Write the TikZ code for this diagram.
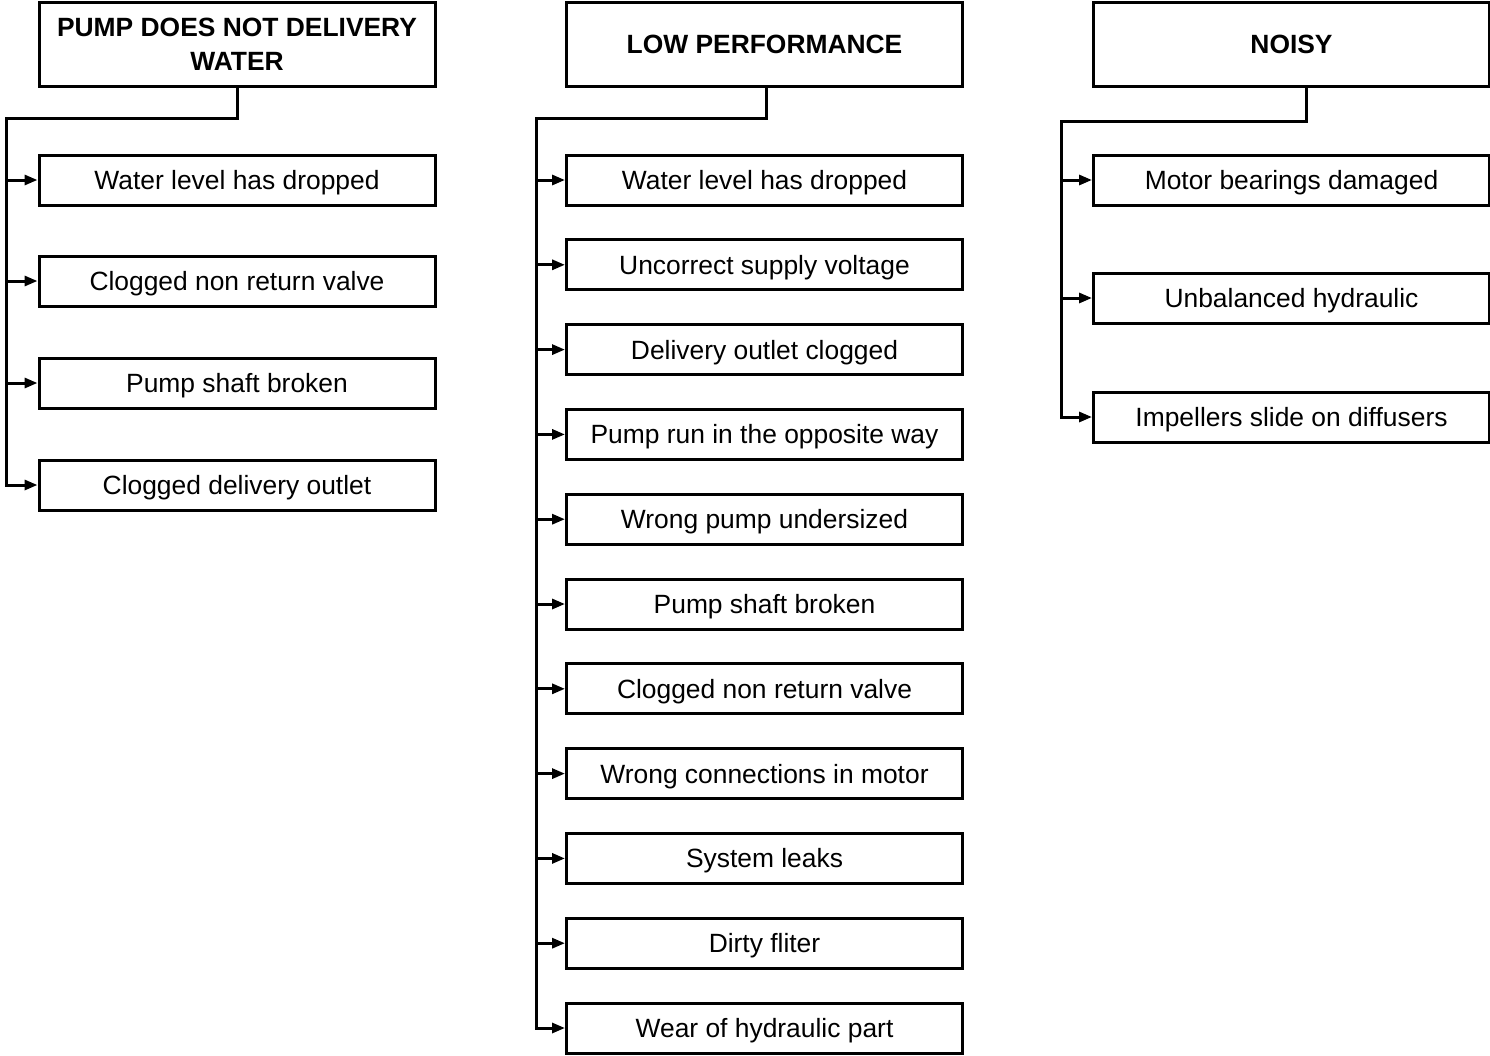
\documentclass[tikz,border=0pt]{standalone}
\usepackage{fontspec}
\setmainfont{Liberation Sans}
\usetikzlibrary{arrows.meta}
\begin{document}
\begin{tikzpicture}[x=1pt,y=1pt,
  box/.style={draw,line width=3pt,rectangle,minimum width=396pt,minimum height=50pt,inner sep=0pt,
    text height=18.9pt,text depth=0pt,
    font=\fontsize{26.4}{34.5}\selectfont,align=center},
  hdr/.style={box,minimum height=84pt,font=\fontsize{26.4}{34.5}\selectfont\bfseries},
  arr/.style={line width=3pt,-{Triangle[length=13pt,width=10pt]}}]
\useasboundingbox (0,0) rectangle (1490,-1055);
% headers
\node[hdr,text height=53.4pt] (lh) at (237,-44) {PUMP DOES NOT DELIVERY\\WATER};
\node[hdr] (mh) at (764.5,-44) {LOW PERFORMANCE};
\node[hdr] (rh) at (1291.5,-44) {NOISY};
% left column
\node[box] (l1) at (237,-180) {Water level has dropped};
\node[box] (l2) at (237,-281) {Clogged non return valve};
\node[box] (l3) at (237,-383) {Pump shaft broken};
\node[box] (l4) at (237,-485) {Clogged delivery outlet};
% middle column
\node[box] (m1) at (764.5,-180) {Water level has dropped};
\node[box] (m2) at (764.5,-264.8) {Uncorrect supply voltage};
\node[box] (m3) at (764.5,-349.6) {Delivery outlet clogged};
\node[box] (m4) at (764.5,-434.4) {Pump run in the opposite way};
\node[box] (m5) at (764.5,-519.2) {Wrong pump undersized};
\node[box] (m6) at (764.5,-604) {Pump shaft broken};
\node[box] (m7) at (764.5,-688.8) {Clogged non return valve};
\node[box] (m8) at (764.5,-773.6) {Wrong connections in motor};
\node[box] (m9) at (764.5,-858.4) {System leaks};
\node[box] (m10) at (764.5,-943.2) {Dirty fliter};
\node[box] (m11) at (764.5,-1028) {Wear of hydraulic part};
% right column
\node[box] (r1) at (1291.5,-180) {Motor bearings damaged};
\node[box] (r2) at (1291.5,-298) {Unbalanced hydraulic};
\node[box] (r3) at (1291.5,-417) {Impellers slide on diffusers};
% trunks
\coordinate (lt) at (6,-118);
\coordinate (mt) at (536,-118);
\coordinate (rt) at (1061,-121);
% left connectors
\draw[arr] (lh.south) |- (lt) |- (l4.west);
\foreach \n in {l1,l2,l3} \draw[arr] (lt |- \n.west) -- (\n.west);
% middle connectors
\draw[arr] ([xshift=1.5pt]mh.south) |- (mt) |- (m11.west);
\foreach \n in {m1,m2,m3,m4,m5,m6,m7,m8,m9,m10} \draw[arr] (mt |- \n.west) -- (\n.west);
% right connectors
\draw[arr] ([xshift=15pt]rh.south) |- (rt) |- (r3.west);
\foreach \n in {r1,r2} \draw[arr] (rt |- \n.west) -- (\n.west);
\end{tikzpicture}
\end{document}
